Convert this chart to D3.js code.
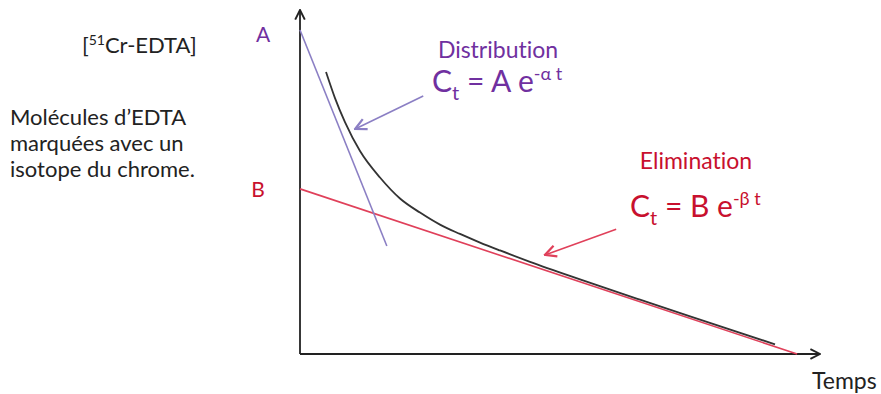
<!DOCTYPE html>
<html>
<head>
<meta charset="utf-8">
<script src="https://cdn.jsdelivr.net/npm/d3@7"></script>
<style>
  body { margin: 0; background: #fff; }
  svg { display: block; font-family: Lato, "Open Sans", sans-serif; font-variant-ligatures: none; }
</style>
</head>
<body>
<svg id="drawing_region"></svg>
<script>
// Courbe concentration / temps (unités arbitraires)
const curveT = [5.0, 6.73, 8.65, 11.54, 15.38, 19.23, 23.08, 26.92, 30.77, 34.62, 38.46, 44.23, 53.85, 65.38, 76.92, 91.35];
const curveC = [82.0, 74.4, 67.4, 59.0, 51.3, 45.2, 41.1, 37.6, 34.9, 32.4, 30.1, 26.8, 21.7, 15.8, 10.0, 2.8];

// droite de distribution (pente alpha) et d'élimination (pente beta)
const distribT = [0, 16.7];
const distribC = [94.2, 31.4];
const elimT = [0, 95.6];
const elimC = [48.0, 0];

// flèches des annotations: [départ, arrivée]
const arrowDistribT = [23.7, 10.6];
const arrowDistribC = [75.0, 65.4];
const arrowElimT = [60.8, 47.1];
const arrowElimC = [36.3, 28.8];

const axisLabelX = "Temps";
const labelA = "A";
const labelB = "B";

const config = {
    width: 881,
    height: 394,
    margin: {top: 10, right: 61, bottom: 40, left: 300}
};

const purple = "#7030a0";
const purpleLine = "#8b7fc4";
const red = "#c8102e";
const redLine = "#e0405a";

const svg = d3.select("#drawing_region")
    .attr("width", config.width)
    .attr("height", config.height);

const inner_width = config.width - config.margin.left - config.margin.right;
const inner_height = config.height - config.margin.top - config.margin.bottom;

const xscale = d3.scaleLinear().domain([0, 100]).range([0, inner_width]);
const yscale = d3.scaleLinear().domain([0, 100]).range([inner_height, 0]);

const chart = svg.append("g")
    .attr("transform", `translate(${config.margin.left}, ${config.margin.top})`);

// marqueurs de flèches ouvertes
const defs = svg.append("defs");
function addMarker(id, color, size) {
    defs.append("marker")
        .attr("id", id)
        .attr("viewBox", "0 0 10 10")
        .attr("refX", 9).attr("refY", 5)
        .attr("markerWidth", size).attr("markerHeight", size)
        .attr("markerUnits", "userSpaceOnUse")
        .attr("orient", "auto")
        .append("path")
        .attr("d", "M1,1 L9,5 L1,9")
        .attr("fill", "none")
        .attr("stroke", color)
        .attr("stroke-width", 1.6);
}
addMarker("arr-axis", "#222", 12);
addMarker("arr-purple", purpleLine, 14);
addMarker("arr-red", redLine, 14);

const line = d3.line().x(d => xscale(d[0])).y(d => yscale(d[1]));
const smooth = d3.line().x(d => xscale(d[0])).y(d => yscale(d[1]))
    .curve(d3.curveMonotoneX);

// axes (sans graduations)
chart.append("path")
    .attr("d", line([[0, 0], [100, 0]]))
    .attr("stroke", "#222").attr("stroke-width", 1.8).attr("fill", "none")
    .attr("marker-end", "url(#arr-axis)");
chart.append("path")
    .attr("d", line([[0, 0], [0, 100]]))
    .attr("stroke", "#222").attr("stroke-width", 1.8).attr("fill", "none")
    .attr("marker-end", "url(#arr-axis)");

// droite d'élimination
chart.append("path")
    .attr("d", line(d3.zip(elimT, elimC)))
    .attr("stroke", redLine).attr("stroke-width", 1.6).attr("fill", "none");

// droite de distribution
chart.append("path")
    .attr("d", line(d3.zip(distribT, distribC)))
    .attr("stroke", purpleLine).attr("stroke-width", 1.6).attr("fill", "none");

// courbe mesurée
chart.append("path")
    .attr("d", smooth(d3.zip(curveT, curveC)))
    .attr("stroke", "#333").attr("stroke-width", 1.8).attr("fill", "none");

// flèches des annotations
chart.append("path")
    .attr("d", line(d3.zip(arrowDistribT, arrowDistribC)))
    .attr("stroke", purpleLine).attr("stroke-width", 1.6).attr("fill", "none")
    .attr("marker-end", "url(#arr-purple)");
chart.append("path")
    .attr("d", line(d3.zip(arrowElimT, arrowElimC)))
    .attr("stroke", redLine).attr("stroke-width", 1.6).attr("fill", "none")
    .attr("marker-end", "url(#arr-red)");

// étiquettes A et B sur l'axe vertical
chart.append("text")
    .attr("x", -37).attr("y", yscale(distribC[0]) + 12)
    .attr("text-anchor", "middle")
    .attr("font-size", 21).attr("fill", purple)
    .text(labelA);
chart.append("text")
    .attr("x", -42).attr("y", yscale(elimC[0]) + 8)
    .attr("text-anchor", "middle")
    .attr("font-size", 21).attr("fill", red)
    .text(labelB);

// titre de l'axe horizontal
svg.append("text")
    .attr("x", 812).attr("y", 389)
    .attr("font-size", 23).attr("fill", "#222")
    .text(axisLabelX);

// texte de gauche
const left = svg.append("g").attr("fill", "#222").attr("font-size", 22);
const t1 = left.append("text").attr("x", 82).attr("y", 53);
t1.append("tspan").text("[");
t1.append("tspan").attr("font-size", 14).attr("dy", -8).text("51");
t1.append("tspan").attr("dy", 8).text("Cr-EDTA]");
left.append("text").attr("x", 10).attr("y", 125).text("Molécules d’EDTA");
left.append("text").attr("x", 10).attr("y", 151).text("marquées avec un");
left.append("text").attr("x", 10).attr("y", 177).text("isotope du chrome.");

// équations
function equation(x, y, color, title, titleGap, coef, exponent) {
    const g = svg.append("g").attr("fill", color);
    g.append("text")
        .attr("x", x + 66).attr("y", y - titleGap)
        .attr("text-anchor", "middle")
        .attr("font-size", 23)
        .text(title);
    const t = g.append("text").attr("x", x).attr("y", y).attr("font-size", 30);
    t.append("tspan").text("C");
    t.append("tspan").attr("font-size", 20).attr("dy", 8).text("t");
    t.append("tspan").attr("dy", -8).text(` = ${coef} e`);
    t.append("tspan").attr("font-size", 18).attr("dy", -12).text(exponent);
}
equation(432, 92, purple, "Distribution", 34, "A", "-α t");
equation(630, 217, red, "Elimination", 48, "B", "-β t");
</script>
</body>
</html>
